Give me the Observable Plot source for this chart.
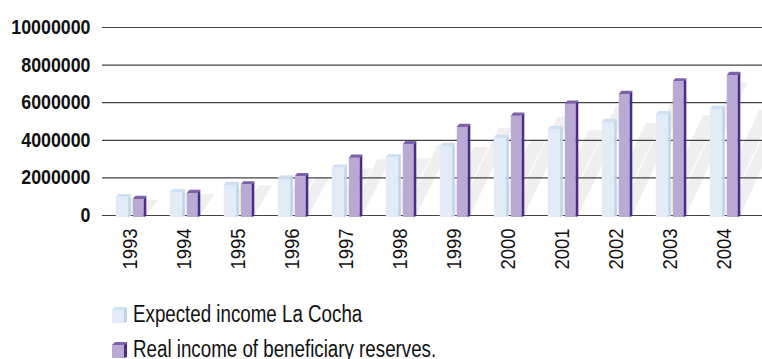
<!DOCTYPE html>
<html>
<head>
<meta charset="utf-8">
<script src="https://cdn.jsdelivr.net/npm/d3@7"></script>
<script src="https://cdn.jsdelivr.net/npm/@observablehq/plot@0.6"></script>
<style>
  html, body { margin: 0; padding: 0; background: #fff; }
  #wrap { position: relative; width: 762px; height: 359px; overflow: hidden; font-family: "Liberation Sans", Arial, sans-serif; }
  #chart svg { display: block; }
  .legend { position: absolute; left: 112px; font-size: 23px; line-height: 23px; color: #111; white-space: nowrap; display: flex; align-items: baseline; }
  .legend .sw { display: inline-block; width: 15px; height: 16px; margin-right: 6px; position: relative; top: 1px; }
  .legend .lbl { display: inline-block; transform: scaleX(0.815); transform-origin: left center; }
</style>
</head>
<body>
<div id="wrap">
  <div id="chart"></div>
</div>
<script>
// ---- data ----
const years = ["1993","1994","1995","1996","1997","1998","1999","2000","2001","2002","2003","2004"];
const expected = [950000, 1210000, 1600000, 1950000, 2520000, 3070000, 3670000, 4100000, 4560000, 4950000, 5360000, 5640000];
const real = [850000, 1170000, 1630000, 2070000, 3050000, 3760000, 4680000, 5280000, 5920000, 6440000, 7110000, 7450000];
const yTicks = [0, 2000000, 4000000, 6000000, 8000000, 10000000];
const yTickLabels = ["0", "2000000", "4000000", "6000000", "8000000", "10000000"];
const seriesNames = ["Expected income La Cocha", "Real income of beneficiary reserves."];

const rows = years.map((y, i) => ({year: y, expected: expected[i], real: real[i]}));
const tickRows = yTicks.map((v, i) => ({v, label: yTickLabels[i]}));

const colors = {
  expected: {front: "#e3ebf6", side: "#bdd6ef", cap: "#cfe0f3"},
  real: {front: "#b8aad2", side: "#4a2a8a", cap: "#7d62ab"}
};

const FONT = '"Liberation Sans", Arial, sans-serif';

const plot = Plot.plot({
  width: 762,
  height: 292,
  marginTop: 27,
  marginBottom: 77,
  marginLeft: 102,
  marginRight: 0,
  style: {fontFamily: FONT, background: "#fff"},
  x: {domain: years, range: [100.7, 755.9], padding: 0, axis: null},
  y: {domain: [0, 10000000], axis: null},
  marks: [
    Plot.ruleY(yTicks, {stroke: "#444", strokeWidth: 1.2}),
    Plot.barY(rows, {x: "year", y: "expected", fill: colors.expected.front, insetLeft: 11.8, insetRight: 29.8, insetBottom: -2}),
    Plot.barY(rows, {x: "year", y: "real", fill: colors.real.front, insetLeft: 28.8, insetRight: 14.3, insetBottom: -2}),
    Plot.text(years, {x: d => d, y: 0, text: d => d, rotate: -90, textAnchor: "end", lineAnchor: "middle", dy: 13, dx: -1.5, fontSize: 21, fill: "#111"}),
    Plot.text(tickRows, {y: "v", text: "label", frameAnchor: "left", textAnchor: "end", dx: -12, fontSize: 20, fontWeight: "bold", fill: "#111"})
  ]
});

document.getElementById("chart").appendChild(plot);

const NS = "http://www.w3.org/2000/svg";

// ---- condense text horizontally (narrow typeface look) ----
function condense(g, k) {
  if (!g) return;
  g.querySelectorAll("text").forEach(t => {
    let tr = t.getAttribute("transform");
    if (!tr) {
      const x = +(t.getAttribute("x") || 0), y = +(t.getAttribute("y") || 0);
      t.removeAttribute("x"); t.removeAttribute("y");
      tr = `translate(${x},${y})`;
    }
    t.setAttribute("transform", `${tr} scale(${k},1)`);
  });
}
const textGroups = plot.querySelectorAll('g[aria-label="text"]');
condense(textGroups[0], 0.88);
condense(textGroups[1], 0.89);

// ---- 3D decoration derived from the rendered bars ----
const shadowG = document.createElementNS(NS, "g");
shadowG.setAttribute("aria-label", "shadows");
const firstG = plot.querySelector("g");
plot.insertBefore(shadowG, firstG);

function decorate(g, c) {
  if (!g) return;
  const rects = Array.from(g.querySelectorAll("rect"));
  const d = 2.6, capH = 3.2;
  rects.forEach(r => {
    const x = +r.getAttribute("x"), y = +r.getAttribute("y");
    const w = +r.getAttribute("width"), h = +r.getAttribute("height");
    const bottom = y + h;
    const hh = h - 2;
    const s = 0.42 * hh + 5;
    const sh = document.createElementNS(NS, "polygon");
    sh.setAttribute("points", `${x},${bottom - 2} ${x + w + d},${bottom - 2} ${x + w + d + s},${y + 1} ${x + s},${y + 1}`);
    sh.setAttribute("fill", "#efefef");
    shadowG.appendChild(sh);
    const side = document.createElementNS(NS, "polygon");
    side.setAttribute("points", `${x + w},${bottom} ${x + w},${y} ${x + w + d},${y - capH} ${x + w + d},${bottom - 1}`);
    side.setAttribute("fill", c.side);
    g.appendChild(side);
    const cap = document.createElementNS(NS, "polygon");
    cap.setAttribute("points", `${x},${y} ${x + d},${y - capH} ${x + w + d},${y - capH} ${x + w},${y}`);
    cap.setAttribute("fill", c.cap);
    g.appendChild(cap);
  });
}
const barGroups = plot.querySelectorAll('g[aria-label="bar"]');
decorate(barGroups[0], colors.expected);
decorate(barGroups[1], colors.real);

// ---- legend ----
const wrap = document.getElementById("wrap");
const legendKeys = ["expected", "real"];
const legendTops = [302.5, 338];
seriesNames.forEach((name, i) => {
  const c = colors[legendKeys[i]];
  const div = document.createElement("div");
  div.className = "legend";
  div.style.top = legendTops[i] + "px";
  div.innerHTML = `<svg class="sw" width="15" height="16" viewBox="0 0 15 16">
    <rect x="0" y="3" width="12" height="13" fill="${c.front}"/>
    <polygon points="12,16 12,3 15,0 15,15" fill="${c.side}"/>
    <polygon points="0,3 3,0 15,0 12,3" fill="${c.cap}"/>
  </svg><span class="lbl">${name}</span>`;
  wrap.appendChild(div);
});
</script>
</body>
</html>
